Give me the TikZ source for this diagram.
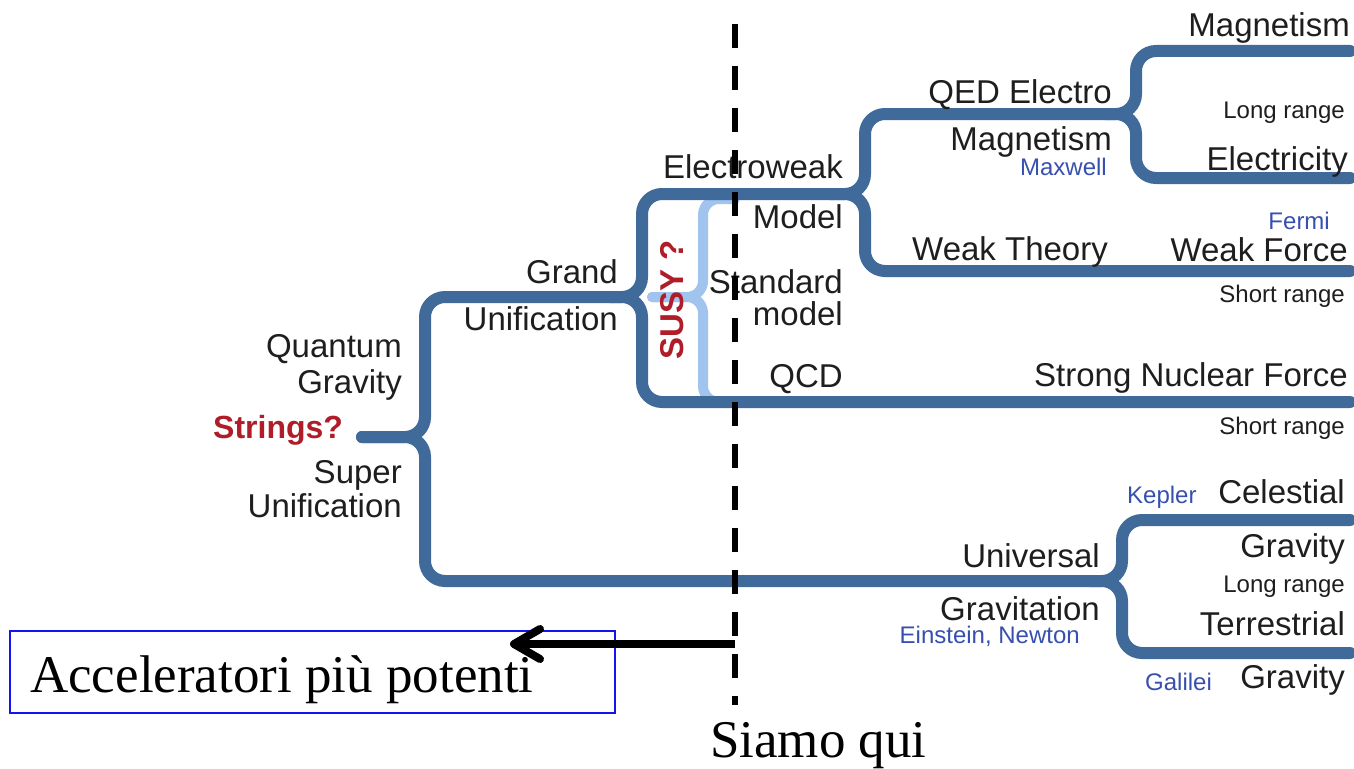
\documentclass[tikz,border=0pt]{standalone}
\usepackage{fontspec}
\setmainfont{Liberation Sans}
\newfontfamily\timesf{Liberation Serif}
\usetikzlibrary{arrows.meta}
\definecolor{branch}{RGB}{64,106,153}
\definecolor{susyblue}{RGB}{160,196,238}
\definecolor{susyred}{RGB}{175,30,40}
\definecolor{sciblue}{RGB}{55,80,175}
\definecolor{txt}{RGB}{30,30,30}
\definecolor{boxblue}{RGB}{20,20,240}
\begin{document}
\begin{tikzpicture}[x=1pt,y=-1pt,
  lbl/.style={font=\fontsize{33}{36}\selectfont, text=txt, inner sep=0pt},
  sm/.style={font=\fontsize{24}{26}\selectfont, text=txt, inner sep=0pt},
  smb/.style={sm, text=sciblue},
  redb/.style={font=\bfseries\fontsize{32}{36}\selectfont, text=susyred, inner sep=0pt},
  serif/.style={font=\timesf\fontsize{53}{58}\selectfont, text=black, inner sep=0pt},
  br/.style={draw=branch, line width=12pt, rounded corners=20pt, line cap=round},
  lb/.style={draw=susyblue, line width=10pt, rounded corners=16pt, line cap=round}]
\useasboundingbox (0,0) rectangle (1354,768);
\fill[white] (0,0) rectangle (1354,768);

% --- coordinates of the tree
\coordinate (root) at (362,437);
\coordinate (j0) at (425,437);
\coordinate (gu) at (642,297);
\coordinate (ew) at (865,194);
\coordinate (qed) at (1136,114);
\coordinate (uni) at (1122,581);
\coordinate (guin) at (610,297);
\coordinate (ewin) at (830,194);
\coordinate (qedin) at (1105,114);
\coordinate (uniin) at (1090,581);
\coordinate (eMag) at (1350,51);
\coordinate (eEle) at (1350,178);
\coordinate (eWeak) at (1350,271);
\coordinate (eStrong) at (1350,402);
\coordinate (eCel) at (1350,520);
\coordinate (eTer) at (1350,653);

% --- SUSY light blue brace
\draw[lb] (652,297) -- (703,297) -- (703,199) -- (735,199);
\draw[lb] (652,297) -- (703,297) -- (703,402) -- (735,402);

% --- branches
\draw[br] (root) -- (j0) -- (425,297) -- (guin);
\draw[br] (root) -- (j0) -- (425,581) -- (uniin);
\draw[br] (guin) -- (gu) -- (642,194) -- (ewin);
\draw[br] (guin) -- (gu) -- (642,402) -- (eStrong);
\draw[br] (ewin) -- (ew) -- (865,114) -- (qedin);
\draw[br] (ewin) -- (ew) -- (865,271) -- (eWeak);
\draw[br] (qedin) -- (qed) -- (1136,51) -- (eMag);
\draw[br] (qedin) -- (qed) -- (1136,178) -- (eEle);
\draw[br] (uniin) -- (uni) -- (1122,520) -- (eCel);
\draw[br] (uniin) -- (uni) -- (1122,653) -- (eTer);

% --- labels
\node[lbl, anchor=base east] (mag1) at (1350,37) {Magnetism};
\node[lbl, anchor=base east] (qedl) at (1112,103) {QED Electro};
\node[lbl, anchor=base east] (mag2) at (1112,150) {Magnetism};
\node[smb, anchor=base east] (maxw) at (1107,175) {Maxwell};
\node[sm, anchor=base east] (lr1) at (1345,118) {Long range};
\node[lbl, anchor=base east] (elec) at (1348,170) {Electricity};
\node[lbl, anchor=base east] (ewl) at (843,178) {Electroweak};
\node[lbl, anchor=base east] (model) at (843,228) {Model};
\node[lbl, anchor=base east] (stand) at (843,293) {Standard};
\node[lbl, anchor=base east] (model2) at (843,325) {model};
\node[lbl, anchor=base east] (qcd) at (843,387) {QCD};
\node[lbl, anchor=base west] (wth) at (912,260) {Weak Theory};
\node[lbl, anchor=base east] (wf) at (1348,261) {Weak Force};
\node[smb, anchor=base east] (fermi) at (1330,229) {Fermi};
\node[sm, anchor=base east] (sr1) at (1345,302) {Short range};
\node[lbl, anchor=base east] (snf) at (1348,386) {Strong Nuclear Force};
\node[sm, anchor=base east] (sr2) at (1345,434) {Short range};
\node[smb, anchor=base west] (kep) at (1127,503) {Kepler};
\node[lbl, anchor=base east] (cel) at (1345,503) {Celestial};
\node[lbl, anchor=base east] (grav1) at (1345,557) {Gravity};
\node[sm, anchor=base east] (lr2) at (1345,592) {Long range};
\node[lbl, anchor=base east] (terr) at (1345,635) {Terrestrial};
\node[lbl, anchor=base east] (grav2) at (1345,688) {Gravity};
\node[smb, anchor=base west] (gal) at (1145,690) {Galilei};
\node[lbl, anchor=base east] (univ) at (1100,567) {Universal};
\node[lbl, anchor=base east] (gravi) at (1100,620) {Gravitation};
\node[smb, anchor=base east] (einst) at (1080,643) {Einstein, Newton};
\node[lbl, anchor=base east] (grand) at (618,283) {Grand};
\node[lbl, anchor=base east] (unif1) at (618,330) {Unification};
\node[lbl, anchor=base east] (quant) at (402,357) {Quantum};
\node[lbl, anchor=base east] (qgrav) at (402,393) {Gravity};
\node[redb, anchor=base west] (strings) at (213,438) {Strings?};
\node[lbl, anchor=base east] (super) at (402,483) {Super};
\node[lbl, anchor=base east] (unif2) at (402,517) {Unification};
\node[redb, font=\bfseries\fontsize{33}{36}\selectfont, rotate=90] (susy) at (672,300) {SUSY ?};

% --- box and arrow
\node[draw=boxblue, line width=1.5pt, minimum width=605pt, minimum height=82pt, anchor=north west, inner sep=0pt] (box) at (9,630) {};
\node[serif, anchor=base west] (acc) at (30,692) {Acceleratori più potenti};
\coordinate (here) at (735,644);
\coordinate (tip) at (510,644);
\draw[line width=8pt, -{Straight Barb[length=26pt,width=30pt,round]}] (here) -- (tip);

% --- dashed line
\coordinate (dtop) at (735,24);
\coordinate (dbot) at (735,705);
\draw[line width=6pt, dash pattern=on 24pt off 18pt] (dtop) -- (dbot);
\node[serif, anchor=base west] (siamo) at (710,757) {Siamo qui};
\end{tikzpicture}
\end{document}
